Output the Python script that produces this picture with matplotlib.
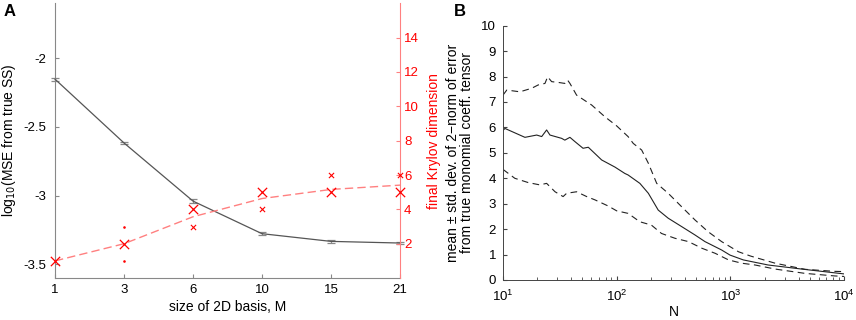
import matplotlib
matplotlib.use("Agg")
import matplotlib.pyplot as plt
import numpy as np

plt.rcParams['font.family'] = ['Liberation Sans', 'DejaVu Sans']
plt.rcParams['font.size'] = 8.5

# ---------------- Panel A data ----------------
basis_sizes = ["1", "3", "6", "10", "15", "21"]
mse_log = [-2.153, -2.617, -3.04, -3.277, -3.333, -3.345]
mse_err = [0.010, 0.010, 0.012, 0.012, 0.010, 0.010]

krylov_mean = [1.0, 2.0, 3.57, 4.63, 5.16, 5.41]
# most frequent Krylov dimension per M (large crosses)
krylov_mode = [1, 2, 4, 5, 5, 5]
# less frequent values (small crosses): (basis index, value)
krylov_sec_idx = [2, 3, 4, 5]
krylov_sec_val = [3, 4, 6, 6]
# rare values (dots)
krylov_rare_idx = [1, 1]
krylov_rare_val = [3, 1]

# ---------------- Panel B data ----------------
N_mean = [10, 10.4, 15.6, 19.8, 21.9, 24.2, 25.9, 32.8, 35, 38.8, 43, 50.6, 56.3,
          73.8, 96.6, 118, 126, 160, 190, 232, 284, 373, 489, 598, 838, 993,
          1300, 2150, 4240, 10000]
err_mean = [5.88, 5.96, 5.61, 5.70, 5.64, 5.90, 5.70, 5.57, 5.50, 5.61, 5.44, 5.18, 5.22,
            4.72, 4.44, 4.19, 4.13, 3.80, 3.41, 2.75, 2.43, 2.10, 1.77, 1.51, 1.18, 0.98,
            0.79, 0.59, 0.43, 0.24]

N_upper = [10, 10.8, 14.1, 17.9, 20.4, 23.4, 24.7, 26.8, 31.7, 35, 37, 38.8, 44.4,
           60.3, 78.7, 100, 126, 140, 166, 190, 225, 284, 373, 489, 637, 838, 1180,
           1510, 2480, 4540, 8260, 10000]
err_upper = [7.27, 7.47, 7.40, 7.54, 7.67, 7.73, 7.99, 7.80, 7.76, 7.73, 7.86, 7.73, 7.27,
             6.88, 6.42, 6.06, 5.64, 5.37, 5.11, 4.59, 3.80, 3.41, 2.88, 2.36, 1.90, 1.51, 1.11,
             0.94, 0.66, 0.42, 0.34, 0.33]

N_lower = [10, 12.7, 16.7, 21.1, 24.2, 28.7, 33.8, 36.3, 44.4, 54.5, 64.5, 84.2, 100,
           126, 160, 202, 248, 326, 428, 561, 735, 964, 1260, 1650, 2480, 4540, 8260, 10000]
err_lower = [4.35, 4.00, 3.83, 3.74, 3.80, 3.47, 3.28, 3.41, 3.47, 3.28, 3.15, 2.91, 2.72,
             2.62, 2.29, 2.16, 1.83, 1.64, 1.51, 1.25, 1.05, 0.79, 0.66, 0.59, 0.43, 0.26, 0.16, 0.14]

fig = plt.figure(figsize=(8.56, 3.2), dpi=100)

# ---------------- Panel A ----------------
axA = fig.add_axes([0.0643, 0.131, 0.403, 0.859])
xpos = np.arange(len(basis_sizes))
axA.errorbar(xpos, mse_log, yerr=mse_err, color='#555555', lw=0.9,
             ecolor='#888888', elinewidth=0.9, capsize=3, capthick=0.9, zorder=3,
             clip_on=False)
axA.set_xlim(0, len(basis_sizes) - 1)
axA.set_ylim(-3.6, -1.6)
axA.set_xticks(xpos)
axA.set_xticklabels(basis_sizes)
axA.set_yticks([-3.5, -3, -2.5, -2])
axA.set_yticklabels(['-3.5', '-3', '-2.5', '-2'])
axA.set_xlabel('size of 2D basis, M', fontsize=10, labelpad=3)
axA.set_ylabel(r'log$_{10}$(MSE from true SS)', fontsize=10, labelpad=4)
for s in ['top', 'right']:
    axA.spines[s].set_visible(False)
for s in ['left', 'bottom']:
    axA.spines[s].set_color('#888888')
axA.tick_params(direction='in', length=3, color='#888888', labelsize=9.5, pad=4)
axA.tick_params(axis='y', pad=6)

axA2 = axA.twinx()
axA2.set_position([0.0643, 0.131, 0.403, 0.859])
axA2.plot(xpos, krylov_mean, color='#ff8080', lw=1.0, dashes=(6, 3), zorder=2)
axA2.scatter(xpos, krylov_mode, marker='x', s=45, color='#ff0000', lw=0.9, zorder=4,
             clip_on=False)
axA2.scatter(np.array(krylov_sec_idx), krylov_sec_val, marker='x', s=14, color='#ff0000',
             lw=0.8, zorder=4, clip_on=False)
axA2.scatter(np.array(krylov_rare_idx), krylov_rare_val, marker='.', s=3, color='#ff0000',
             zorder=4, clip_on=False)
axA2.set_ylim(0, 16)
axA2.set_yticks([2, 4, 6, 8, 10, 12, 14])
for s in ['top', 'left', 'bottom']:
    axA2.spines[s].set_visible(False)
axA2.spines['right'].set_color('#ff8080')
axA2.tick_params(direction='in', length=3, color='#ff8080', labelcolor='#ff0000',
                 labelsize=9.5, pad=3)
axA2.set_ylabel('final Krylov dimension', color='#ff0000', fontsize=10, labelpad=6)
axA2.set_xlim(0, len(basis_sizes) - 1)

# ---------------- Panel B ----------------
axB = fig.add_axes([0.5876, 0.125, 0.3984, 0.7947])
axB.plot(N_mean, err_mean, color='#222222', lw=0.8)
axB.plot(N_upper, err_upper, color='#222222', lw=0.8, dashes=(6, 4))
axB.plot(N_lower, err_lower, color='#222222', lw=0.8, dashes=(6, 4))
axB.set_xscale('log')
axB.set_xlim(10, 1e4)
axB.set_ylim(0, 10)
axB.set_yticks(range(0, 11))
for s in ['top', 'right']:
    axB.spines[s].set_visible(False)
for s in ['left', 'bottom']:
    axB.spines[s].set_color('#444444')
    axB.spines[s].set_linewidth(0.7)
axB.tick_params(which='both', direction='in', color='#444444', labelsize=9.5)
axB.tick_params(which='major', length=3)
axB.tick_params(which='minor', length=2)
axB.tick_params(axis='x', which='both', pad=6)
axB.tick_params(axis='y', pad=5)
axB.set_xlabel('N', fontsize=10, labelpad=1)
axB.set_ylabel('mean \u00b1 std. dev. of 2\u2212norm of error\nfrom true monomial coeff. tensor',
               fontsize=10, labelpad=5, linespacing=1.0)

fig.text(0.004, 0.965, 'A', fontsize=12, fontweight='bold', va='center', ha='left')
fig.text(0.530, 0.965, 'B', fontsize=12, fontweight='bold', va='center', ha='left')

fig.savefig('out.png', dpi=100)
